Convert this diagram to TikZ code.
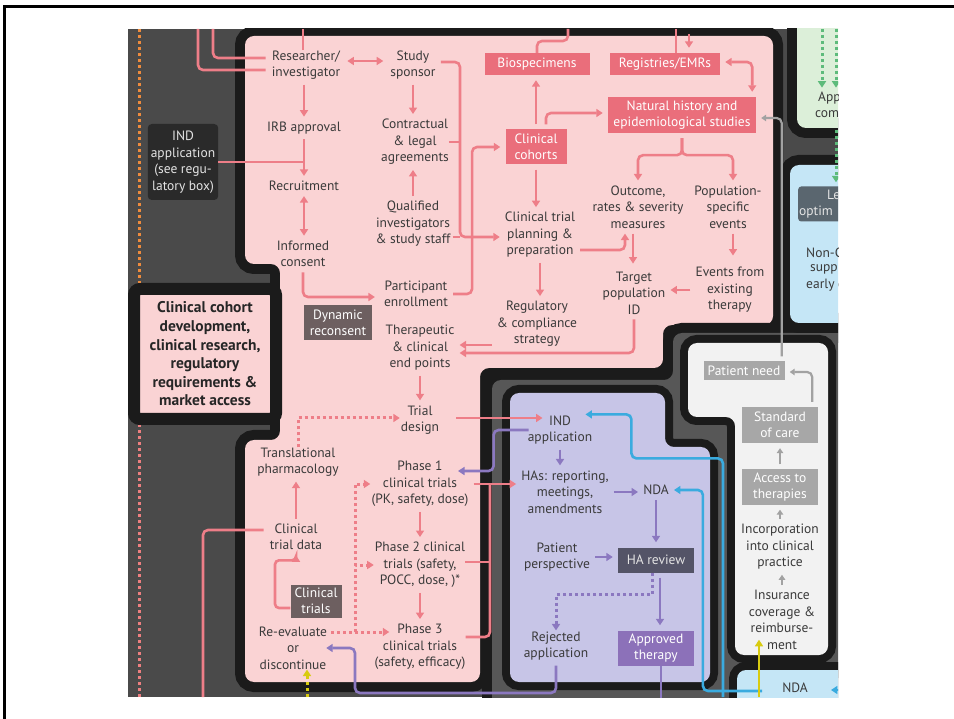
\documentclass[tikz,border=0pt]{standalone}
\usepackage{fontspec}
\setmainfont{PT Sans}
\usetikzlibrary{arrows.meta,calc}
\definecolor{bgg}{HTML}{4A4A4A}
\definecolor{cng}{HTML}{575757}
\definecolor{bk}{HTML}{1B1B1B}
\definecolor{txt}{HTML}{3A3A3A}
\definecolor{pinkbg}{HTML}{FAD3D4}
\definecolor{pinkln}{HTML}{EE7E88}
\definecolor{pinkbx}{HTML}{EA6E7B}
\definecolor{lav}{HTML}{C7C5E7}
\definecolor{purln}{HTML}{8B78C0}
\definecolor{purbx}{HTML}{8C71B9}
\definecolor{slate}{HTML}{545467}
\definecolor{offw}{HTML}{F2F2F2}
\definecolor{gybx}{HTML}{A7A7A7}
\definecolor{gyln}{HTML}{A2A2A2}
\definecolor{bluln}{HTML}{3AABDF}
\definecolor{ltblue}{HTML}{C5E6F6}
\definecolor{ltgreen}{HTML}{DCEFD9}
\definecolor{grnln}{HTML}{5DBB7B}
\definecolor{yel}{HTML}{D8CB10}
\definecolor{brbx}{HTML}{6D5F60}
\definecolor{dkbx}{HTML}{2A2A2A}
\definecolor{lobx}{HTML}{5A666F}
\definecolor{orng}{HTML}{EE8B3D}
\definecolor{lblt}{HTML}{E4E4E4}
\begin{document}
\begin{tikzpicture}[x=1pt, y=-1pt,
  every node/.style={font=\fontsize{13.5}{16.5}\selectfont, text=txt, align=center, inner sep=0pt},
  panel/.style={preaction={draw=bk, line width=#1}, rounded corners=9pt},
  tbox/.style={fill=#1, text=white, inner sep=3pt},
  arr/.style={-{Triangle[length=6.5pt,width=8pt]}},
  arr2/.style={{Triangle[length=6.5pt,width=8pt]}-{Triangle[length=6.5pt,width=8pt]}},
  wire/.style={draw=#1, line width=2.6pt, rounded corners=5pt},
  dots/.style={dash pattern=on 3pt off 3pt, line width=3pt},
  pl/.style={wire=pinkln},
  pa/.style={wire=pinkln, arr, shorten <=5pt, shorten >=5pt},
  pa2/.style={wire=pinkln, arr2, shorten <=5pt, shorten >=5pt},
  pd/.style={wire=pinkln, arr, dots, rounded corners=0pt, shorten >=1pt},
  pu/.style={wire=purln, arr, shorten <=5pt, shorten >=5pt},
  pud/.style={wire=purln, arr, dots, rounded corners=0pt, shorten >=1pt},
  bl/.style={wire=bluln, arr, shorten >=5pt},
  gy/.style={wire=gyln, line width=2.2pt, -{Triangle[length=5pt,width=6.5pt]}, shorten <=5pt, shorten >=5pt},
  yl/.style={wire=yel, arr},
  yld/.style={wire=yel, arr, dots},
  gd/.style={wire=grnln, arr, dots, shorten >=4pt}]
\useasboundingbox (0,0) rectangle (954,719);
\draw[line width=3pt] (4,719) -- (4,7) -- (954,7);
\fill[bgg] (128,29) rectangle (838,697);
\begin{scope}
\clip (128,29) rectangle (838,697);
\path[panel=20pt, fill=pinkbg] (245,36) -- (773,36) -- (773,325) -- (663,325) -- (663,368) -- (480,368)
  -- (480,682) -- (245,682) -- (245,440) -- (280,440) -- (280,264) -- (245,264) -- cycle;
\path[panel=20pt, fill=cng] (492,380) -- (673,380) -- (673,333) -- (860,333) -- (860,720) -- (492,720) -- cycle;
\path[panel=16pt, fill=lav] (510,393) -- (665,393) -- (665,447) -- (710,447) -- (710,682) -- (510,682) -- cycle;
\path[panel=16pt, fill=offw] (688,343) -- (828,343) -- (828,655) -- (735,655) -- (735,417) -- (688,417) -- cycle;
\path[panel=16pt, fill=ltblue] (737,670) -- (860,670) -- (860,720) -- (737,720) -- cycle;
\path[panel=20pt, fill=ltgreen] (797,10) -- (860,10) -- (860,128) -- (797,128) -- cycle;
\path[panel=20pt, fill=ltblue] (790,165) -- (860,165) -- (860,323) -- (790,323) -- cycle;

\node[draw=bk, line width=12pt, fill=pinkbg, rounded corners=6pt, minimum width=142pt, minimum height=130pt,
  font=\fontsize{15.5}{18.6}\selectfont\bfseries, text=black!85] (lbl) at (205,354)
  {Clinical cohort\\development,\\clinical research,\\regulatory\\requirements \&\\market access};
\node[tbox=dkbx, text=lblt, rounded corners=4pt, minimum width=70pt, minimum height=76pt] (indl) at (183,162)
  {IND\\application\\(see regu-\\latory box)};

\node (rsr) at (306,65) {Researcher/\\investigator};
\node (spo) at (413,65) {Study\\sponsor};
\node (irb) at (304,128) {IRB approval};
\node (rec) at (304,186) {Recruitment};
\node (icf) at (303,254) {Informed\\consent};
\node (ctl) at (415,142) {Contractual\\\& legal\\agreements};
\node (qis) at (413,224) {Qualified\\investigators\\\& study staff};
\node (enr) at (416,294) {Participant\\enrollment};
\node[tbox=brbx, minimum width=68pt, minimum height=35pt] (dyn) at (338,323) {Dynamic\\reconsent};
\node (thp) at (420,348) {Therapeutic\\\& clinical\\end points};
\node (tri) at (420,420) {Trial\\design};
\node (trp) at (298,462) {Translational\\pharmacology};
\node (ctd) at (296,537) {Clinical\\trial data};
\node[tbox=brbx, minimum width=51pt, minimum height=33pt] (ctb) at (316,601) {Clinical\\trials};
\node (rev) at (293,648) {Re-evaluate\\or\\discontinue};
\node (ph1) at (420,484) {Phase 1\\clinical trials\\(PK, safety, dose)};
\node (ph2) at (420,565) {Phase 2 clinical\\trials (safety,\\POCC, dose, )*};
\node (ph3) at (420,647) {Phase 3\\clinical trials\\(safety, efficacy)};
\node[tbox=pinkbx, minimum width=105pt, minimum height=22pt] (bio) at (537,64) {Biospecimens};
\node[tbox=pinkbx, minimum width=110pt, minimum height=22pt] (reg) at (665,64) {Registries/EMRs};
\node[tbox=pinkbx, minimum width=148pt, minimum height=36pt] (nat) at (682,115) {Natural history and\\epidemiological studies};
\node[tbox=pinkbx, minimum width=61pt, minimum height=35pt] (coh) at (536,147) {Clinical\\cohorts};
\node (ctp) at (540,235) {Clinical trial\\planning \&\\preparation};
\node (out) at (638,207) {Outcome,\\rates \& severity\\measures};
\node (pop) at (728,207) {Population-\\specific\\events};
\node (tgt) at (634,293) {Target\\population\\ID};
\node (evt) at (730,290) {Events from\\existing\\therapy};
\node (rcs) at (537,324) {Regulatory\\\& compliance\\strategy};

\node (ind) at (560,430) {IND\\application};
\node (has) at (565,492) {HAs: reporting,\\meetings,\\amendments};
\node (nda) at (656,490) {NDA};
\node (pat) at (557,557) {Patient\\perspective};
\node[tbox=slate, text=lblt, minimum width=76pt, minimum height=25pt] (har) at (656,560) {HA review};
\node (rej) at (556,646) {Rejected\\application};
\node[tbox=purbx, minimum width=76pt, minimum height=35pt] (apr) at (656,648) {Approved\\therapy};

\node[tbox=gybx, minimum width=81pt, minimum height=19pt] (pnd) at (744,371) {Patient need};
\node[tbox=gybx, minimum width=76pt, minimum height=36pt] (soc) at (780,425) {Standard\\of care};
\node[tbox=gybx, minimum width=76pt, minimum height=35pt] (acc) at (780,487) {Access to\\therapies};
\node (inc) at (780,547) {Incorporation\\into clinical\\practice};
\node (ins) at (782,620) {Insurance\\coverage \&\\reimburse-\\ment};
\node (ndb) at (795,688) {NDA};

\node[anchor=west] (app) at (818,98) {App};
\node[anchor=west] (com) at (815,114) {com};
\node[fill=lobx, rounded corners=3pt, minimum width=60pt, minimum height=35pt, anchor=west] (lob) at (798,204) {};
\node[anchor=west, text=lblt] (le) at (827,195) {Le};
\node[anchor=west, text=lblt] (opt) at (799,212) {optim};
\node[anchor=west] (non) at (806,253) {Non-C};
\node[anchor=west] (sup) at (810,269) {supp};
\node[anchor=west] (ear) at (806,285) {early c};

\coordinate (e1) at (198,29); \coordinate (e2) at (213,29); \coordinate (e3) at (303,29);
\coordinate (e4) at (568,29); \coordinate (e5) at (676,29); \coordinate (e6) at (689,29);
\coordinate (e7) at (203,697); \coordinate (e8) at (307,697); \coordinate (e9) at (723,697);
\coordinate (e10) at (759,697); \coordinate (e11) at (850,690);
\coordinate (o1) at (139,29); \coordinate (o2) at (139,697);
\coordinate (g1) at (822,29); \coordinate (g2) at (836,29); \coordinate (g3) at (836,130);
\coordinate (sj) at (460,237); \coordinate (pj) at (490,485);
\coordinate (dj) at (355,632); \coordinate (rb) at (355,693);

\draw[dots, draw=orng] (o1) -- (o1 |- lbl.north);
\draw[dots, draw=pinkln!90!orng] (o2) -- (o2 |- lbl.south);

\draw[pl] (e1) |- ($(rsr.west)+(-6,5)$);
\draw[pl] (e2) |- ($(rsr.west)+(-6,-7)$);
\draw[pl] (e3) -- (e3 |- rsr.north);
\draw[pa2] ($(rsr.east)+(2,-4)$) -- ($(spo.west)+(-2,-4)$);
\draw[pa] (rsr.south -| irb.south) -- (irb.north);
\draw[pa] (irb.south) -- (rec.north);
\draw[pl] (indl.east) -- (indl.east -| rec.north);
\draw[pa2] (rec.south) -- (rec.south |- icf.north);
\draw[pa] (icf.south) |- ($(enr.west)+(-4,3)$);
\draw[pa] (spo.south) -- (spo.south |- ctl.north);
\draw[pa] (qis.north) -- (qis.north |- ctl.south);
\draw[pa] ($(spo.east)+(0,-3)$) -| (sj) -- (sj -| ctp.west);
\draw[pl] (ctl.east) -- (ctl.east -| sj);
\draw[pl] ($(qis.east)+(2,13)$) -- (sj);
\draw[pa] (enr.east) -- ++(24,0) |- (coh.west);
\draw[pa] (coh.north) -- (coh.north |- bio.south);
\draw[pa] ($(coh.north)+(10,0)$) |- ($(nat.west)+(0,-2)$);
\draw[pl] (e4) -- ++(0,12) -| (bio.north);
\draw[pl] (e5) -- (e5 |- reg.north);
\draw[pa] (e6) -- (e6 |- reg.north);
\draw[pa2] ($(reg.east)+(0,-2)$) -| ($(nat.north east)+(-4,0)$);
\draw[pa] (nat.south) -- ++(0,22) -| (out.north);
\draw[pa] (nat.south) -- ++(0,22) -| ($(pop.north)+(5,0)$);
\draw[pa] (coh.south) -- (coh.south |- ctp.north);
\draw[pa] ($(ctp.east)+(0,15)$) -| ($(out.south)+(-13,0)$);
\draw[pa] ($(out.south)+(-5,0)$) -- ($(out.south -| tgt.north)+(-1,40)$);
\draw[pa] ($(pop.south)+(5,0)$) -- ($(pop.south)+(5,32)$);
\draw[pa] (evt.west) -- (evt.west -| tgt.east);
\draw[pa] (ctp.south) -- (ctp.south |- rcs.north);
\draw[pa] (tgt.south) |- ($(thp.east)+(0,5)$);
\draw[pa] ($(thp.east -| rcs.west)+(0,-3)$) -- ($(thp.east)+(0,-3)$);
\draw[pa] (thp.south) -- (tri.north);
\draw[pd] (trp.north) |- ($(tri.west)+(0,-2)$);
\draw[pa] (ctd.north) -- (ctd.north |- trp.south);
\draw[pl] (e7) |- ($(ctd.west)+(-6,-7)$);
\draw[pa, rounded corners=4pt, shorten <=0pt] ($(ctb.west)+(0,7)$) -| ($(ctd.south)+(-21,10)$) -| (ctd.south);
\draw[pa] (ph1.south) -- (ph2.north);
\draw[pa] (ph2.south) -- (ph3.north);
\draw[pd] ($(rev.east)+(4,-16)$) -- ($(ph3.west)+(16,-15)$);
\draw[pd] (dj) |- (ph1.west);
\draw[pd] (dj) |- (ph2.west);
\draw[pa] (ph1.east) -- (ph1.east -| has.west);
\draw[pl] ($(ph3.east)+(0,-10)$) -| (pj);
\draw[pl] ($(ph2.east)+(0,-3)$) -- ($(ph2.east -| pj)+(0,-3)$);
\draw[pa] ($(tri.east)+(12,-2)$) -- ($(tri.east -| ind.west)+(20,-2)$);

\draw[pu] ($(ind.west)+(6,0)$) -- ++(-40,0) |- ($(ph1.north)+(33,10)$);
\draw[pu] (ind.south) -- (ind.south |- has.north);
\draw[pu] (has.east) -- (has.east -| nda.west);
\draw[pu] (nda.south) -- (nda.south |- har.north);
\draw[pu] (pat.east) -- (pat.east -| har.west);
\draw[pu] ($(har.south)+(4,0)$) -- ($(apr.north)+(4,0)$);
\draw[pud] ($(har.south)+(-4,0)$) -- ++(0,22) -| (rej.north);
\draw[pu] (rej.south) |- (rb) |- ($(rev.east)+(-6,0)$);
\draw[wire=purln] ($(apr.south)+(5,0)$) -- ($(apr.south)+(5,40)$);

\draw[bl] (e9) |- ($(ind.north east)+(39,43)$) |- ($(ind.north east)+(-12,-1)$);
\draw[bl] ($(ndb.west)+(-20,3)$) -| ($(nda.east)+(34,0)$) -- (nda.east);
\draw[bl] (e11) -- ($(ndb.east)+(18,2)$);

\draw[gy] ($(pnd.north east)+(-3,0)$) |- ($(nat.east)+(0,3)$);
\draw[gy] ($(soc.north east)+(-6,0)$) |- ($(pnd.east)+(0,1)$);
\draw[gy] (acc.north) -- (soc.south);
\draw[gy] (inc.north) -- (inc.north |- acc.south);
\draw[gy] (ins.north) -- (ins.north |- inc.south);

\draw[yl] (e10) -- ($(e10 |- ins.south)+(0,-10)$);
\draw[yld] (e8) -- ($(rev.south)+(14,0)$);

\draw[gd] (g1) -- (g1 |- app.north);
\draw[gd] (g2) -- (g2 |- app.north);
\draw[gd] (g3) -- (g3 |- lob.north);
\end{scope}
\end{tikzpicture}
\end{document}
